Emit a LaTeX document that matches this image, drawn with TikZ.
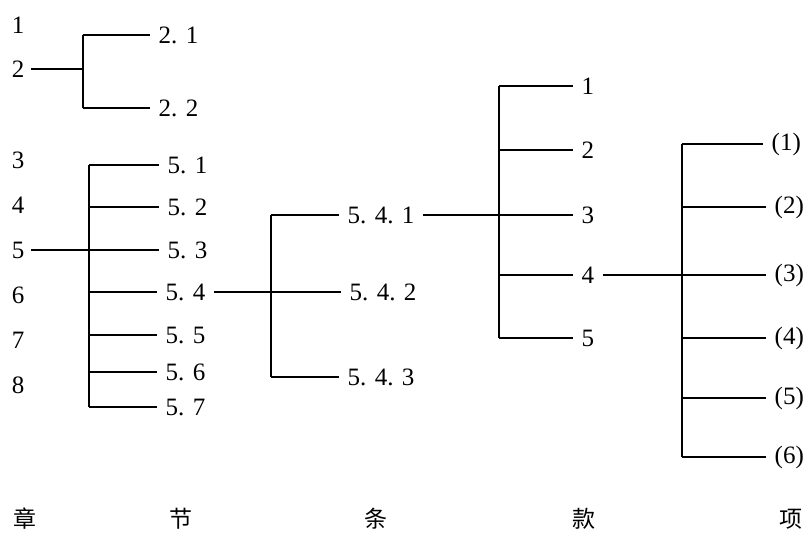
\documentclass[tikz,border=0pt]{standalone}
\usepackage{fontspec}
\setmainfont{Liberation Serif}
\newfontfamily\cjk{Noto Sans CJK SC}

\begin{document}
\begin{tikzpicture}[x=0.5pt,y=-0.5pt,line width=.7pt,
		chap/.style={font=\fontsize{12.5}{14}\selectfont,inner sep=3pt},
		lbl/.style={font=\fontsize{12.5}{14}\selectfont,inner sep=4pt,anchor=west},
		head/.style={font=\cjk\fontsize{11.5}{13}\selectfont}]
	\useasboundingbox (0,0) rectangle (806,532);

	% chapters
	\node[chap] (c1) at (18,25) {1};
	\node[chap] (c2) at (18,69) {2};
	\node[chap] (c3) at (18,160) {3};
	\node[chap] (c4) at (18,205) {4};
	\node[chap] (c5) at (18,250) {5};
	\node[chap] (c6) at (18,295) {6};
	\node[chap] (c7) at (18,340) {7};
	\node[chap] (c8) at (18,385) {8};

	% sections of 2
	\coordinate (barA) at (83,0);
	\node[lbl] (s21) at (150,35) {2. 1};
	\node[lbl] (s22) at (150,108) {2. 2};
	\draw (barA |- s21.west) -- (s21.west);
	\draw (barA |- s22.west) -- (s22.west);
	\draw (barA |- s21.west) -- (barA |- s22.west);
	\draw (c2.east) -- (barA |- c2.east);

	% sections of 5
	\coordinate (barB) at (89,0);
	\node[lbl] (s51) at (159,165) {5. 1};
	\node[lbl] (s52) at (159,207) {5. 2};
	\node[lbl] (s53) at (159,250) {5. 3};
	\node[lbl] (s54) at (157,292) {5. 4};
	\node[lbl] (s55) at (157,335) {5. 5};
	\node[lbl] (s56) at (157,372) {5. 6};
	\node[lbl] (s57) at (157,407) {5. 7};
	\draw (barB |- s51.west) -- (barB |- s57.west);
	\draw (barB |- s51.west) -- (s51.west);
	\draw (barB |- s52.west) -- (s52.west);
	\draw (c5.east) -- (s53.west);
	\draw (barB |- s54.west) -- (s54.west);
	\draw (barB |- s55.west) -- (s55.west);
	\draw (barB |- s56.west) -- (s56.west);
	\draw (barB |- s57.west) -- (s57.west);

	% clauses of 5.4
	\coordinate (barC) at (271,0);
	\node[lbl] (a1) at (339,215) {5. 4. 1};
	\node[lbl] (a2) at (341,292) {5. 4. 2};
	\node[lbl] (a3) at (339,377) {5. 4. 3};
	\draw (barC |- a1.west) -- (barC |- a3.west);
	\draw (barC |- a1.west) -- (a1.west);
	\draw (s54.east) -- (a2.west);
	\draw (barC |- a3.west) -- (a3.west);

	% paragraphs of 5.4.1
	\coordinate (barD) at (499,0);
	\node[lbl] (k1) at (573,86) {1};
	\node[lbl] (k2) at (573,150) {2};
	\node[lbl] (k3) at (573,215) {3};
	\node[lbl] (k4) at (573,275) {4};
	\node[lbl] (k5) at (573,338) {5};
	\draw (barD |- k1.west) -- (barD |- k5.west);
	\draw (barD |- k1.west) -- (k1.west);
	\draw (barD |- k2.west) -- (k2.west);
	\draw (a1.east) -- (k3.west);
	\draw (barD |- k4.west) -- (k4.west);
	\draw (barD |- k5.west) -- (k5.west);

	% items of 4
	\coordinate (barE) at (682,0);
	\node[lbl] (x1) at (763,144) {(1)};
	\node[lbl] (x2) at (766,207) {(2)};
	\node[lbl] (x3) at (766,275) {(3)};
	\node[lbl] (x4) at (766,338) {(4)};
	\node[lbl] (x5) at (766,398) {(5)};
	\node[lbl] (x6) at (766,457) {(6)};
	\draw (barE |- x1.west) -- (barE |- x6.west);
	\draw (barE |- x1.west) -- (x1.west);
	\draw (barE |- x2.west) -- (x2.west);
	\draw (k4.east) -- (x3.west);
	\draw (barE |- x4.west) -- (x4.west);
	\draw (barE |- x5.west) -- (x5.west);
	\draw (barE |- x6.west) -- (x6.west);

	% level names
	\node[head] (h1) at (25,519) {章};
	\node[head] (h2) at (181,519) {节};
	\node[head] (h3) at (376,519) {条};
	\node[head] (h4) at (584,519) {款};
	\node[head] (h5) at (791,519) {项};
\end{tikzpicture}
\end{document}
